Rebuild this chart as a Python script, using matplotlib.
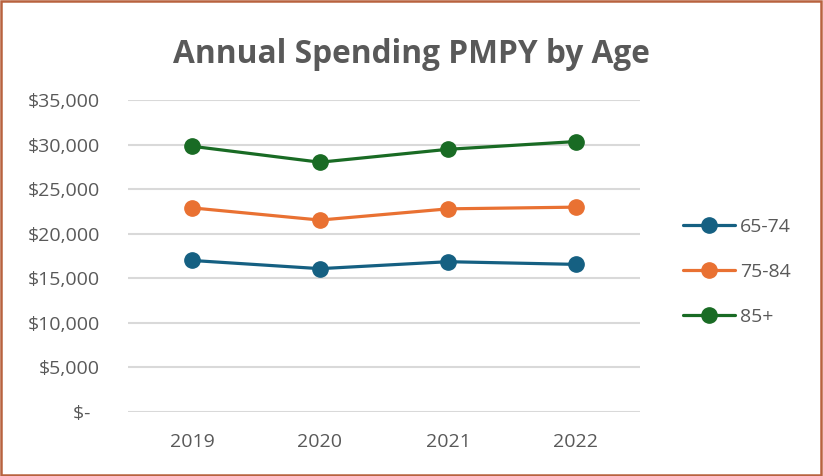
import matplotlib.pyplot as plt
from matplotlib.patches import Rectangle

# data
years = ['2019', '2020', '2021', '2022']
age_65_74 = [17000, 16080, 16860, 16560]
age_75_84 = [22900, 21530, 22790, 22980]
age_85_plus = [29810, 28020, 29470, 30340]
series_names = ['65-74', '75-84', '85+']
series_colors = ['#156082', '#E97132', '#196B24']
y_ticks = [0, 5000, 10000, 15000, 20000, 25000, 30000, 35000]

plt.rcParams['font.family'] = ['Open Sans', 'DejaVu Sans']
text_color = '#595959'

fig = plt.figure(figsize=(8.23, 4.76), dpi=100)
ax = fig.add_axes([128 / 823, 64 / 476, 512 / 823, 312 / 476])

x = list(range(len(years)))
for vals, name, col in zip([age_65_74, age_75_84, age_85_plus], series_names, series_colors):
    ax.plot(x, vals, color=col, lw=2.3, marker='o', markersize=11, label=name,
            solid_capstyle='round', zorder=3)

ax.set_xlim(-0.5, 3.5)
ax.set_ylim(0, 35000)
ax.set_yticks(y_ticks)
ax.set_yticklabels(['$-  '] + ['${:,}'.format(v) for v in y_ticks[1:]])
ax.set_xticks(x)
ax.set_xticklabels(years)
ax.grid(axis='y', color='#D9D9D9', lw=1.5, zorder=0)
ax.tick_params(length=0, labelsize=14, labelcolor=text_color)
ax.tick_params(axis='y', pad=20)
ax.tick_params(axis='x', pad=15)
for s in ax.spines.values():
    s.set_visible(False)

fig.text(411 / 823, 1 - 63 / 476, 'Annual Spending PMPY by Age', ha='center', va='baseline',
         fontsize=22.8, fontweight='bold', color=text_color)

fig.legend(loc='center left', bbox_to_anchor=(665 / 823, 1 - 272 / 476), frameon=False,
           fontsize=14, labelcolor=text_color, handlelength=2.7, labelspacing=1.38,
           handletextpad=0.25)

# outer chart border
fig.patches.append(Rectangle((0.001, 0.002), 0.997, 0.995, transform=fig.transFigure,
                             fill=False, edgecolor='#B8623F', lw=1.8))

fig.savefig('out.png', dpi=100)
